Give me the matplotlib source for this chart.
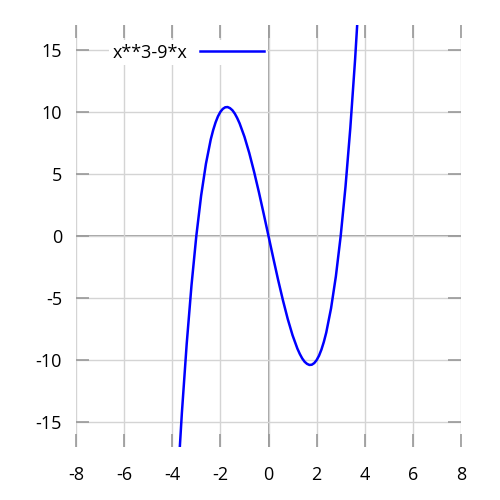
import matplotlib
matplotlib.use("Agg")
import matplotlib.pyplot as plt

x_vals = [-3.8, -3.6, -3.4, -3.2, -3.0, -2.8, -2.6, -2.4, -2.3, -2.2, -2.1, -2.0, -1.9,
          -1.8, -1.7, -1.6, -1.5, -1.4, -1.3, -1.2, -1.0, -0.8, -0.6, -0.4, -0.2, 0.0,
          0.2, 0.4, 0.6, 0.8, 1.0, 1.2, 1.3, 1.4, 1.5, 1.6, 1.7, 1.8, 1.9, 2.0,
          2.1, 2.2, 2.3, 2.4, 2.6, 2.8, 3.0, 3.2, 3.4, 3.6, 3.8]
y_vals = [-20.67, -14.26, -8.70, -3.97, 0.0, 3.25, 5.82, 7.78, 8.53, 9.15, 9.64, 10.0, 10.24,
          10.37, 10.39, 10.30, 10.13, 9.86, 9.50, 9.07, 8.0, 6.69, 5.18, 3.54, 1.79, 0.0,
          -1.79, -3.54, -5.18, -6.69, -8.0, -9.07, -9.50, -9.86, -10.13, -10.30, -10.39, -10.37, -10.24, -10.0,
          -9.64, -9.15, -8.53, -7.78, -5.82, -3.25, 0.0, 3.97, 8.70, 14.26, 20.67]
x_ticks = [-8, -6, -4, -2, 0, 2, 4, 6, 8]
y_ticks = [-15, -10, -5, 0, 5, 10, 15]
label = "x**3-9*x"

plt.rcParams['font.family'] = ['Open Sans', 'DejaVu Sans']

fig = plt.figure(figsize=(5, 5), dpi=100)
ax = fig.add_axes([0.152, 0.106, 0.77, 0.844])

ax.set_xlim(-8, 8)
ax.set_ylim(-17, 17)
ax.set_xticks(x_ticks)
ax.set_yticks(y_ticks)
ax.set_xticklabels([str(t) for t in x_ticks])
ax.set_yticklabels([str(t) for t in y_ticks])

for s in ax.spines.values():
    s.set_visible(False)

ax.grid(True, color="#d4d4d4", linewidth=1.0)
ax.axhline(0, color="#909090", linewidth=1.2, zorder=1)
ax.axvline(0, color="#909090", linewidth=1.2, zorder=1)

ax.tick_params(direction="in", length=9.5, width=1.2, color="#999999",
               labelsize=13, top=True, right=True, pad=10)
ax.tick_params(axis="x", pad=14)

ax.plot(x_vals, y_vals, color="#0000ff", linewidth=1.8, label=label, zorder=3)

leg = ax.legend(loc="upper left", bbox_to_anchor=(0.087, 0.964), markerfirst=False,
                frameon=True, fontsize=13, handlelength=3.5, handletextpad=0.7,
                borderpad=0.2, borderaxespad=0)
leg.get_frame().set_facecolor("white")
leg.get_frame().set_edgecolor("none")
leg.get_frame().set_alpha(1)
leg.get_frame().set_boxstyle("square", pad=0)

fig.savefig("out.png", dpi=100)
